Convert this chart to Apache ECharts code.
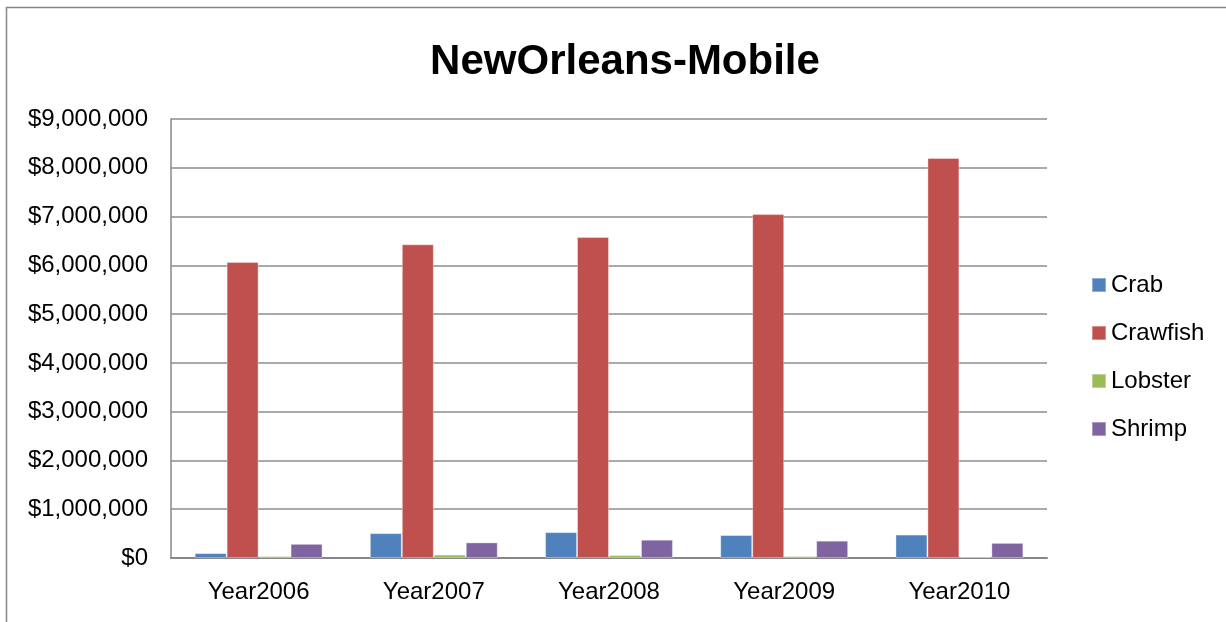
<!DOCTYPE html>
<html>
<head>
<meta charset="utf-8">
<script src="https://cdn.jsdelivr.net/npm/echarts@6/dist/echarts.min.js"></script>
<style>
  html, body { margin: 0; padding: 0; background: #fff; }
  #chart { width: 1226px; height: 622px; }
</style>
</head>
<body>
<div id="chart"></div>
<script>
// Yearly seafood values, NewOrleans-Mobile
const years = ['Year2006', 'Year2007', 'Year2008', 'Year2009', 'Year2010'];
const crab = [100000, 510000, 530000, 470000, 480000];
const crawfish = [6070000, 6430000, 6580000, 7050000, 8200000];
const lobster = [40000, 70000, 60000, 40000, 30000];
const shrimp = [290000, 320000, 375000, 355000, 310000];

const seriesNames = ['Crab', 'Crawfish', 'Lobster', 'Shrimp'];
const seriesColors = ['#4F81BD', '#C0504D', '#9BBB59', '#8064A2'];
const seriesData = [crab, crawfish, lobster, shrimp];

const FONT = '"Liberation Sans", Arial, sans-serif';

function money(v) {
  return '$' + String(v).replace(/\B(?=(\d{3})+(?!\d))/g, ',');
}

const chart = echarts.init(document.getElementById('chart'), null, { renderer: 'canvas' });

chart.setOption({
  backgroundColor: '#ffffff',
  animation: false,
  title: {
    text: 'NewOrleans-Mobile',
    left: 620,
    top: 36,
    textAlign: 'center',
    textStyle: { fontFamily: FONT, fontSize: 42, fontWeight: 'bold', color: '#000' }
  },
  graphic: [{
    type: 'rect',
    shape: { x: 6.5, y: 7.5, width: 1300, height: 700 },
    style: { fill: 'none', stroke: '#878787', lineWidth: 1.5 },
    silent: true
  }],
  legend: {
    orient: 'vertical',
    left: 1091,
    top: 273,
    padding: 0,
    itemWidth: 14,
    itemHeight: 14,
    itemGap: 24,
    icon: 'rect',
    data: seriesNames,
    textStyle: { fontFamily: FONT, fontSize: 24, color: '#000', padding: [0, 0, 0, 0] }
  },
  grid: { left: 171, right: 179, top: 119, bottom: 64, containLabel: false },
  xAxis: {
    type: 'category',
    data: years,
    axisLine: { show: true, lineStyle: { color: '#878787', width: 2 } },
    axisTick: { show: false },
    axisLabel: { fontFamily: FONT, fontSize: 24, color: '#000', margin: 22 }
  },
  yAxis: {
    type: 'value',
    min: 0,
    max: 9000000,
    interval: 1000000,
    axisLine: { show: true, lineStyle: { color: '#878787', width: 1.5 } },
    axisTick: { show: false },
    splitLine: { show: true, lineStyle: { color: '#8c8c8c', width: 1.5 } },
    axisLabel: { fontFamily: FONT, fontSize: 24, color: '#000', margin: 23, formatter: money }
  },
  series: seriesNames.map((name, i) => ({
    name: name,
    type: 'bar',
    data: seriesData[i],
    barGap: '0%',
    barCategoryGap: '27%',
    itemStyle: { color: seriesColors[i], borderColor: 'rgba(255,255,255,0.35)', borderWidth: 1 }
  }))
});
</script>
</body>
</html>
